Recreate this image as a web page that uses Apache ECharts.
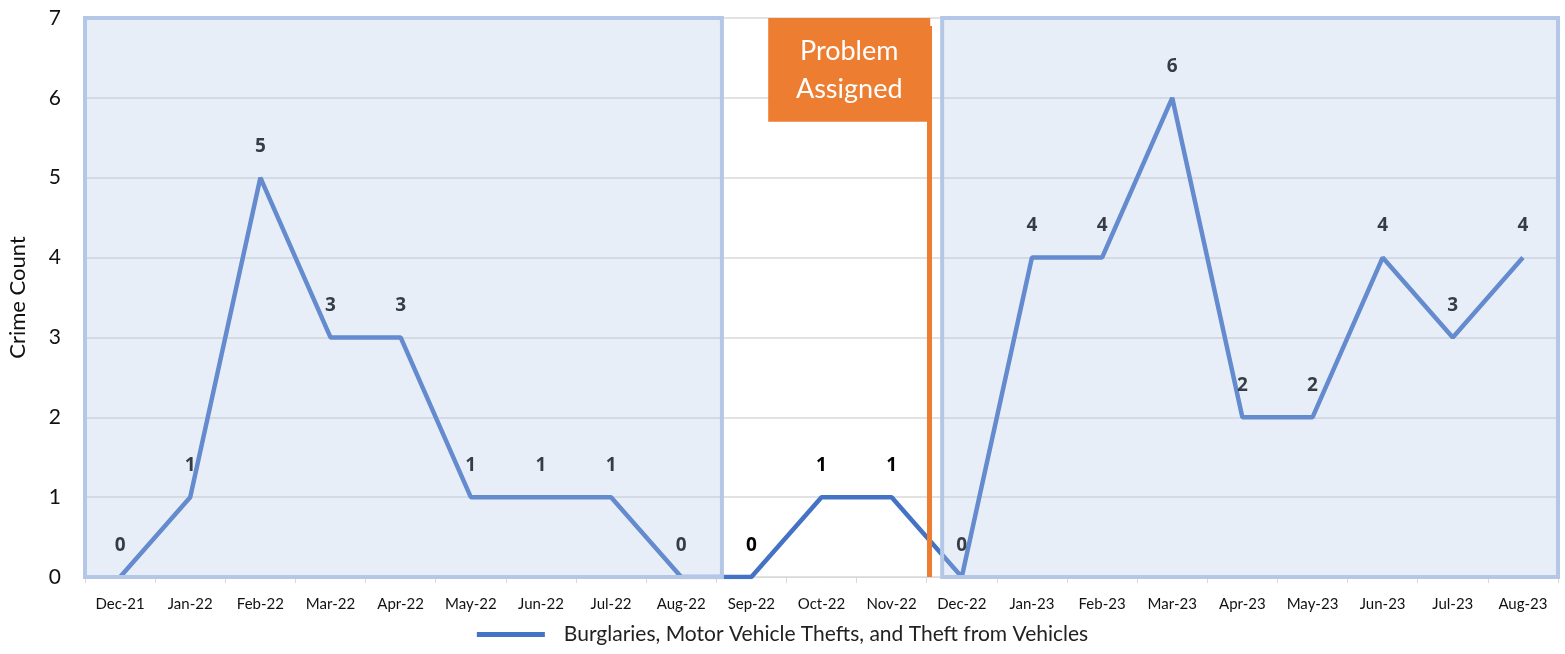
<!DOCTYPE html>
<html lang="en" style="height: 100%">
<head>
  <meta charset="utf-8">
  <title>Crime Count</title>
  <script type="text/javascript" src="https://fastly.jsdelivr.net/npm/echarts@6/dist/echarts.min.js"></script>
</head>
<body style="height: 100%; margin: 0">
  <div id="chart" style="width: 1565px; height: 654px"></div>

  <script type="text/javascript">
    var months = ['Dec-21', 'Jan-22', 'Feb-22', 'Mar-22', 'Apr-22', 'May-22', 'Jun-22', 'Jul-22',
      'Aug-22', 'Sep-22', 'Oct-22', 'Nov-22', 'Dec-22', 'Jan-23', 'Feb-23', 'Mar-23', 'Apr-23',
      'May-23', 'Jun-23', 'Jul-23', 'Aug-23'];
    var crimeCounts = [0, 1, 5, 3, 3, 1, 1, 1, 0, 0, 1, 1, 0, 4, 4, 6, 2, 2, 4, 3, 4];
    var seriesName = 'Burglaries, Motor Vehicle Thefts, and Theft from Vehicles';

    // shaded "before" / "after" windows, in category units on a hidden value axis
    var beforeWindow = [0, 9.08];
    var afterWindow = [12.22, 21];
    var assignedAt = 12.03;

    var font = 'Lato, "Open Sans", sans-serif';
    var myChart = echarts.init(document.getElementById('chart'));

    var option = {
      animation: false,
      grid: { left: 85, right: 7, top: 18, bottom: 77, outerBoundsMode: 'none' },
      legend: {
        data: [seriesName],
        bottom: 4,
        left: 'center',
        icon: 'rect',
        itemWidth: 68,
        itemHeight: 5,
        itemGap: 20,
        textStyle: { fontFamily: font, fontSize: 21, color: '#222', padding: [0, 0, 0, 14] }
      },
      xAxis: [
        {
          type: 'category',
          data: months,
          boundaryGap: true,
          axisLine: { lineStyle: { color: '#D9D9D9', width: 1 } },
          axisTick: { show: true, interval: 0, length: 6, lineStyle: { color: '#D9D9D9' } },
          axisLabel: { interval: 0, margin: 20, fontFamily: font, fontSize: 15, color: '#111' }
        },
        {
          type: 'value', min: 0, max: 21, show: false
        }
      ],
      yAxis: {
        type: 'value',
        min: 0,
        max: 7,
        interval: 1,
        name: 'Crime Count',
        nameLocation: 'middle',
        nameGap: 56,
        nameTextStyle: { fontFamily: font, fontSize: 22, color: '#111' },
        axisLine: { show: false },
        axisTick: { show: false },
        axisLabel: { margin: 24, fontFamily: font, fontSize: 21, color: '#111' },
        splitLine: { lineStyle: { color: '#D9D9D9', width: 1.5 } }
      },
      series: [
        {
          name: seriesName,
          type: 'line',
          data: crimeCounts,
          z: 2,
          symbol: 'circle',
          symbolSize: 0,
          showSymbol: true,
          lineStyle: { color: '#4472C4', width: 4.5 },
          itemStyle: { color: '#4472C4' },
          label: {
            show: true,
            position: 'top',
            distance: 22,
            fontFamily: '"Open Sans", sans-serif',
            fontWeight: 'bold',
            fontSize: 19,
            color: '#000'
          }
        },
        {
          name: 'overlay',
          type: 'line',
          xAxisIndex: 1,
          data: [[0, 0]],
          symbol: 'none',
          z: 10,
          lineStyle: { width: 0 },
          markArea: {
            silent: true,
            z: 10,
            itemStyle: {
              color: 'rgba(180, 199, 231, 0.3)',
              borderColor: '#B4C7E7',
              borderWidth: 4
            },
            data: [
              [{ coord: [beforeWindow[0], 0] }, { coord: [beforeWindow[1], 7] }],
              [{ coord: [afterWindow[0], 0] }, { coord: [afterWindow[1], 7] }]
            ]
          }
        },
        {
          name: 'problem',
          type: 'line',
          xAxisIndex: 1,
          data: [[0, 0]],
          symbol: 'none',
          z: 11,
          lineStyle: { width: 0 },
          markArea: {
            silent: true,
            z: 11,
            itemStyle: { color: '#ED7D31' },
            label: {
              show: true,
              position: 'inside',
              formatter: 'Problem\nAssigned',
              fontFamily: font,
              fontSize: 27,
              lineHeight: 38,
              color: '#fff'
            },
            data: [
              [{ coord: [9.74, 5.7] }, { coord: [assignedAt + 0.02, 7.02] }]
            ]
          },
          markLine: {
            silent: true,
            z: 11,
            symbol: 'none',
            label: { show: false },
            lineStyle: { color: '#ED7D31', width: 5, type: 'solid' },
            data: [
              [{ coord: [assignedAt, 0] }, { coord: [assignedAt, 6.9] }]
            ]
          }
        }
      ]
    };

    myChart.setOption(option);
  </script>
</body>
</html>
